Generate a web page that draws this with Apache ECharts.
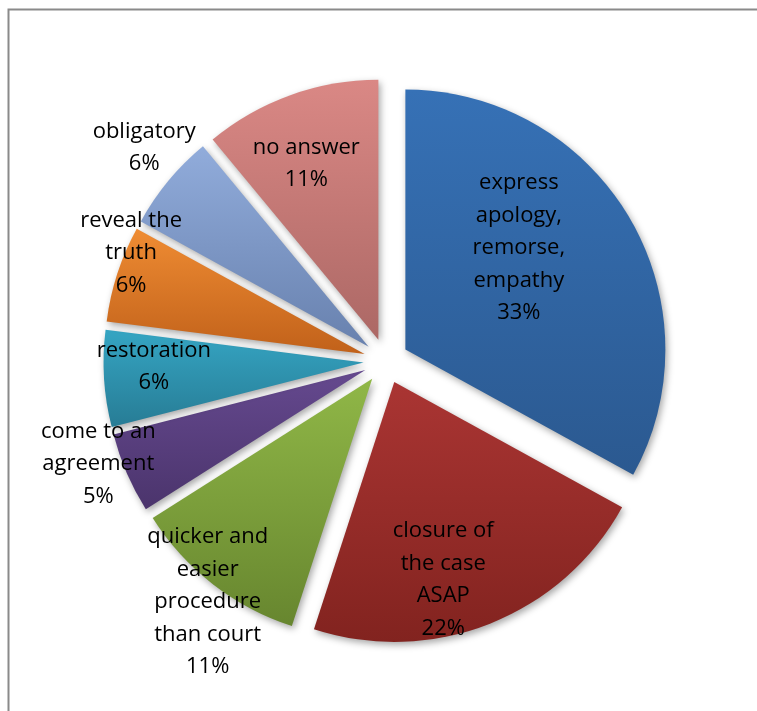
<!DOCTYPE html>
<html>
<head>
<meta charset="utf-8">
<script src="https://cdn.jsdelivr.net/npm/echarts@6/dist/echarts.min.js"></script>
<style>
html,body{margin:0;padding:0;background:#fff;}
#chart{width:757px;height:711px;}
</style>
</head>
<body>
<div id="chart"></div>
<script>
// ---- data ----
const categories = [
  "express\napology,\nremorse,\nempathy",
  "closure of\nthe case\nASAP",
  "quicker and\neasier\nprocedure\nthan court",
  "come to an\nagreement",
  "restoration",
  "reveal the\ntruth",
  "obligatory",
  "no answer"
];
const values = [33, 22, 11, 5, 6, 6, 6, 11];

// ---- styles ----
const topColors    = ["#3671b6", "#aa3533", "#90b747", "#65498f", "#35a5c3", "#ef8c33", "#91acdb", "#da8885"];
const bottomColors = ["#2b5990", "#82231f", "#67862f", "#4b346c", "#277c95", "#c1611a", "#6881ae", "#ac6865"];
const labelNudge = [[-1, -34], [0, 74], [-83, 118], [-145, 41], [-77, -4], [-107, -60], [-122, -114], [-27, -51]];

const chart = echarts.init(document.getElementById('chart'), null, {renderer: 'canvas'});

const data = categories.map((name, i) => ({
  name: name,
  value: values[i],
  selected: true,
  itemStyle: {
    color: new echarts.graphic.LinearGradient(0, 0, 0, 1, [
      {offset: 0, color: topColors[i]},
      {offset: 1, color: bottomColors[i]}
    ])
  }
}));

chart.setOption({
  animation: false,
  backgroundColor: '#ffffff',
  graphic: [{
    type: 'rect',
    left: 6, top: 7,
    shape: {width: 800, height: 800},
    style: {fill: 'none', stroke: '#8a8a8a', lineWidth: 2},
    silent: true,
    z: -1
  }],
  series: [{
    type: 'pie',
    center: [386, 361],
    radius: [0, 260],
    startAngle: 90,
    clockwise: true,
    selectedMode: 'multiple',
    selectedOffset: 22.5,
    avoidLabelOverlap: false,
    emphasis: {disabled: true},
    itemStyle: {
      borderWidth: 0,
      shadowBlur: 7,
      shadowColor: 'rgba(0,0,0,0.35)',
      shadowOffsetX: 2,
      shadowOffsetY: 3
    },
    label: {
      show: true,
      position: 'inside',
      formatter: p => p.name + '\n' + p.value + '%',
      color: '#000',
      fontFamily: 'Open Sans',
      fontSize: 22,
      lineHeight: 32.5,
      align: 'center',
      textBorderWidth: 0
    },
    labelLine: {show: false},
    labelLayout: params => ({dx: labelNudge[params.dataIndex][0], dy: labelNudge[params.dataIndex][1]}),
    data: data
  }]
});
</script>
</body>
</html>
